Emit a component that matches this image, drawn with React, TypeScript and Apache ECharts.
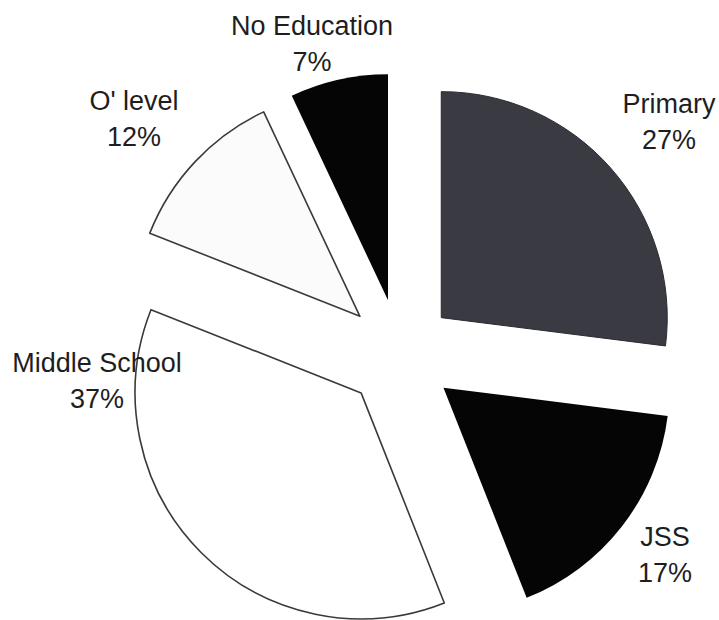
import React, { useEffect, useRef } from "react";
import * as echarts from "echarts";

const categories = ["Primary", "JSS", "Middle School", "O' level", "No Education"];
const values = [27, 17, 37, 12, 7];

// styles
const fills = ["#3a3a42", "#050505", "#ffffff", "#fbfbfb", "#050505"];
const borders = ["#2a2a30", "#050505", "#3a3a3a", "#3a3a3a", "#050505"];
const borderWidths = [1, 0, 1.6, 1.6, 0];
// label block centres (layout only)
const labelPos: [number, number][] = [
  [669, 122],
  [665, 555],
  [97, 381],
  [134, 119],
  [312, 44],
];

export default function App() {
  const ref = useRef<HTMLDivElement>(null);
  useEffect(() => {
    document.body.style.margin = "0";
    const chart = echarts.init(ref.current!, undefined, { renderer: "svg" });
    const font = "'Liberation Sans', Arial, sans-serif";
    const total = values.reduce((a, b) => a + b, 0);
    const data = categories.map((name, i) => {
      const style = {
        color: fills[i],
        borderColor: borders[i],
        borderWidth: borderWidths[i],
      };
      return {
        name,
        value: values[i],
        selected: true,
        itemStyle: style,
        select: { itemStyle: style },
      };
    });
    const labels = categories.map((name, i) => ({
      type: "text",
      x: labelPos[i][0],
      y: labelPos[i][1],
      z: 100,
      zlevel: 0,
      silent: true,
      style: {
        text: `${name}\n${Math.round((values[i] / total) * 100)}%`,
        fontFamily: font,
        fontSize: 27,
        lineHeight: 36,
        fill: "#1e1e1e",
        align: "center",
        verticalAlign: "middle",
      },
    }));
    chart.setOption({
      animation: false,
      backgroundColor: "#ffffff",
      graphic: { elements: labels },
      series: [
        {
          type: "pie",
          z: 1,
          center: [400, 354],
          radius: 226,
          startAngle: 90,
          clockwise: true,
          selectedMode: "multiple",
          selectedOffset: 55,
          avoidLabelOverlap: false,
          emphasis: { disabled: true },
          label: { show: false },
          labelLine: { show: false },
          data,
        },
      ],
    });
    return () => chart.dispose();
  }, []);
  return <div ref={ref} style={{ width: 719, height: 620 }} />;
}
